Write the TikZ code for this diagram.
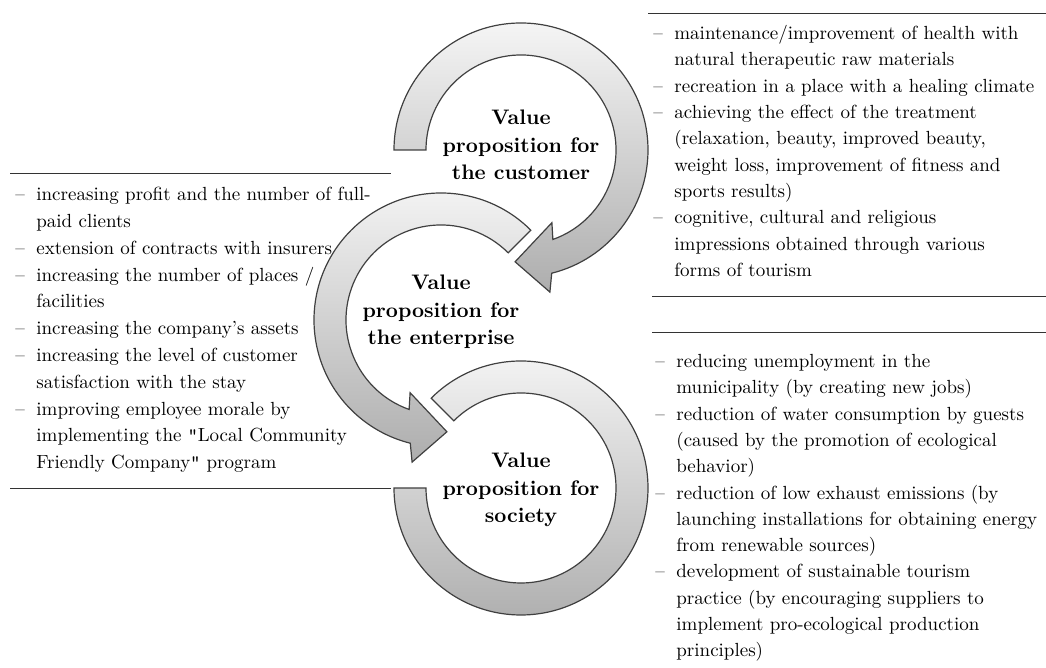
\documentclass[tikz,border=0pt]{standalone}
\usetikzlibrary{calc}
\newcommand{\bul}{\makebox[10.5pt][l]{–}}
\newcommand{\hng}{\hspace*{10.5pt}}
\newcommand{\qt}{{\ttfamily\char"22}}
\tikzset{
  ring/.style={draw=black!75, line width=0.6pt, top color=black!4, bottom color=black!32},
  vlabel/.style={align=center, font=\fontsize{10.5}{13.8}\selectfont\bfseries},
  vlist/.style={anchor=north west, align=left, inner sep=0pt, font=\fontsize{9.5}{13.15}\selectfont},
  sepline/.style={line width=0.5pt, black!80}
}

\begin{document}
\begin{tikzpicture}[x=0.5pt,y=0.5pt]
\useasboundingbox (0,0) rectangle (1046,668);
% the three circular arrows
\coordinate (c1) at (521,518);
\coordinate (c2) at (441,348);
\coordinate (c3) at (521,180);
\path [ring] ($(c1)+(180:127)$) arc (180:-76:127) -- ($(c1)+(28.9,-142.1)$) -- ($(c1)+(-5.9,-111.8)$)
  -- ($(c1)+(30.9,-72.7)$) -- ($(c1)+(-70.4:95)$) arc (-70.4:180:95) -- cycle;
\path [ring] ($(c2)+(45:127)$) arc (45:256:127) -- ($(c2)+(-28.9,-142.1)$) -- ($(c2)+(5.9,-111.8)$)
  -- ($(c2)+(-30.9,-72.7)$) -- ($(c2)+(250.4:95)$) arc (250.4:45:95) -- cycle;
\path [ring] ($(c3)+(135:127)$) arc (135:-180:127) -- ($(c3)+(180:95)$) arc (-180:135:95) -- cycle;
\node [vlabel] (cust) at (521,523) {Value\\proposition for\\the customer};
\node [vlabel] (ent) at (441,356) {Value\\proposition for\\the enterprise};
\node [vlabel] (soc) at (521,178) {Value\\proposition for\\society};
% customer
\draw [sepline] (648,654) -- (1046,654);
\node [vlist] (custlist) at (653,643) {\bul maintenance/improvement of health with\\
  \hng natural therapeutic raw materials\\
  \bul recreation in a place with a healing climate\\
  \bul achieving the effect of the treatment\\
  \hng (relaxation, beauty, improved beauty,\\
  \hng weight loss, improvement of fitness and\\
  \hng sports results)\\
  \bul cognitive, cultural and religious\\
  \hng impressions obtained through various\\
  \hng forms of tourism};
\draw [sepline] (652,371) -- (1046,371);
% enterprise
\draw [sepline] (10,494) -- (391,494);
\node [vlist, font=\fontsize{9.5}{13.4}\selectfont] (entlist) at (15,481) {\bul increasing profit and the number of full-\\
  \hng paid clients\\
  \bul extension of contracts with insurers\\
  \bul increasing the number of places /\\
  \hng facilities\\
  \bul increasing the company's assets\\
  \bul increasing the level of customer\\
  \hng satisfaction with the stay\\
  \bul improving employee morale by\\
  \hng implementing the \qt Local Community\\
  \hng Friendly Company\qt{} program};
\draw [sepline] (10,179) -- (391,179);
% society
\draw [sepline] (652,335) -- (1046,335);
\node [vlist] (soclist) at (655,314) {\bul reducing unemployment in the\\
  \hng municipality (by creating new jobs)\\
  \bul reduction of water consumption by guests\\
  \hng (caused by the promotion of ecological\\
  \hng behavior)\\
  \bul reduction of low exhaust emissions (by\\
  \hng launching installations for obtaining energy\\
  \hng from renewable sources)\\
  \bul development of sustainable tourism\\
  \hng practice (by encouraging suppliers to\\
  \hng implement pro-ecological production\\
  \hng principles)};
\end{tikzpicture}
\end{document}
